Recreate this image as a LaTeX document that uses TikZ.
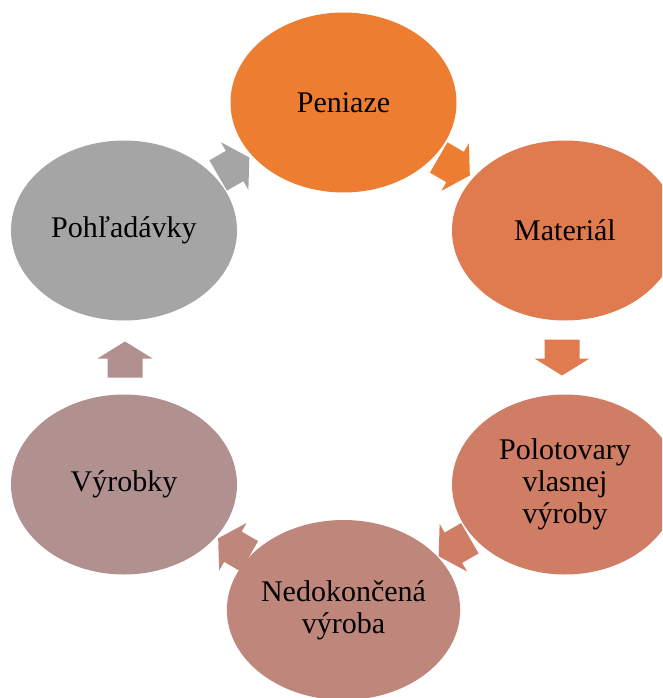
\documentclass[tikz,border=0pt]{standalone}
\usepackage{fontspec}
\setmainfont{Liberation Serif}
\usetikzlibrary{shapes.geometric,calc,backgrounds}
\definecolor{cPen}{HTML}{ED7D31}
\definecolor{cMat}{HTML}{DF7B4E}
\definecolor{cPol}{HTML}{CF7D65}
\definecolor{cNed}{HTML}{BF877B}
\definecolor{cVyr}{HTML}{B0918F}
\definecolor{cPoh}{HTML}{A5A5A5}
\tikzset{
  stage/.style={ellipse, minimum width=226pt, minimum height=180pt, inner sep=0pt,
    fill=#1, draw=none, text=black, align=center,
    font=\fontsize{30}{32}\selectfont},
}
\newcommand{\blockarrow}[3]{%
  \fill[#1, shift={(#2)}, rotate=#3]
    (-18,-17.5) -- (1,-17.5) -- (1,-27.5) -- (18,0) -- (1,27.5) -- (1,17.5) -- (-18,17.5) -- cycle;}
\begin{document}
\begin{tikzpicture}[x=1pt,y=-1pt]
\useasboundingbox (0,0) rectangle (662,698);
\clip (0,0) rectangle (662,698);
\coordinate (ctr) at (343.5,357.5);
\node[stage=cPen] (pen) at (343.5,102.5) {Peniaze};
\node[stage=cMat] (mat) at (565,230.5) {Materiál};
\node[stage=cPol] (pol) at (565,484.5) {Polotovary\\vlasnej\\výroby};
\node[stage=cNed] (ned) at (343.5,610) {Nedokončená\\výroba};
\node[stage=cVyr] (vyr) at (124,484.5) {Výrobky};
\node[stage=cPoh] (poh) at (124,230.5) {Pohľadávky};
\coordinate (a1) at ($(pen.center)!0.5!(mat.center)$);
\coordinate (a2) at ($(mat.center)!0.5!(pol.center)+(-3,0)$);
\coordinate (a3) at ($(pol.center)!0.5!(ned.center)$);
\coordinate (a4) at ($(ned.center)!0.5!(vyr.center)$);
\coordinate (a5) at ($(vyr.center)!0.5!(poh.center)+(1,2)$);
\coordinate (a6) at ($(poh.center)!0.5!(pen.center)$);
\begin{scope}[on background layer]
\blockarrow{cPen}{a1}{-30}
\blockarrow{cMat}{a2}{-90}
\blockarrow{cPol}{a3}{-150}
\blockarrow{cNed}{a4}{150}
\blockarrow{cVyr}{a5}{90}
\blockarrow{cPoh}{a6}{30}
\end{scope}
\end{tikzpicture}
\end{document}
